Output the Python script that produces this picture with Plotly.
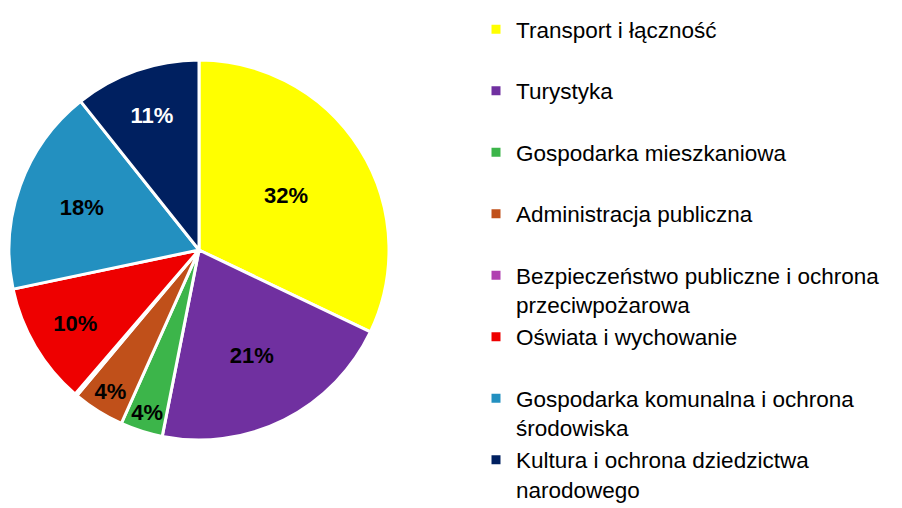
import plotly.graph_objects as go

# Categories, shares (%) and colours
labels = [
    "Transport i łączność",
    "Turystyka",
    "Gospodarka mieszkaniowa",
    "Administracja publiczna",
    "Bezpieczeństwo publiczne i ochrona<br>przeciwpożarowa",
    "Oświata i wychowanie",
    "Gospodarka komunalna i ochrona<br>środowiska",
    "Kultura i ochrona dziedzictwa<br>narodowego",
]
values = [32.1, 21.0, 3.6, 4.4, 0.2, 10.4, 17.6, 10.7]
colors = ["#ffff00", "#7030a0", "#3cb54a", "#c0501a",
          "#b040b0", "#ee0000", "#2390c0", "#002060"]
text_colors = ["black", "black", "black", "black",
               "black", "black", "black", "white"]

# one-line labels get an empty second line so every legend row has the same height
legend_labels = [l if "<br>" in l else l + "<br> " for l in labels]
pct_text = [f"{round(v)}%" if v >= 1 else "" for v in values]

W, H = 902, 508
cx, cy, r = 191, 242, 190

fig = go.Figure()
fig.add_trace(go.Pie(
    labels=legend_labels, values=values, text=pct_text,
    textinfo="text", textposition="inside", insidetextorientation="horizontal",
    sort=False, direction="clockwise", rotation=0,
    marker=dict(colors=colors, line=dict(color="white", width=3)),
    textfont=dict(family="Liberation Sans, Arial", size=22, color=text_colors, weight="bold"),
    domain=dict(x=[(cx - r) / W, (cx + r) / W], y=[1 - (cy + r) / H, 1 - (cy - r) / H]),
))

fig.update_layout(
    width=W, height=H,
    margin=dict(l=0, r=0, t=0, b=0, autoexpand=False),
    paper_bgcolor="white",
    uniformtext=dict(minsize=22, mode="show"),
    legend=dict(
        xref="container", yref="container",
        x=468 / W, y=1, xanchor="left", yanchor="top",
        valign="top", maxheight=1,
        font=dict(family="Liberation Sans, Arial", size=22.5, color="black"),
        bgcolor="rgba(0,0,0,0)",
    ),
)

fig.write_html("out.html")
